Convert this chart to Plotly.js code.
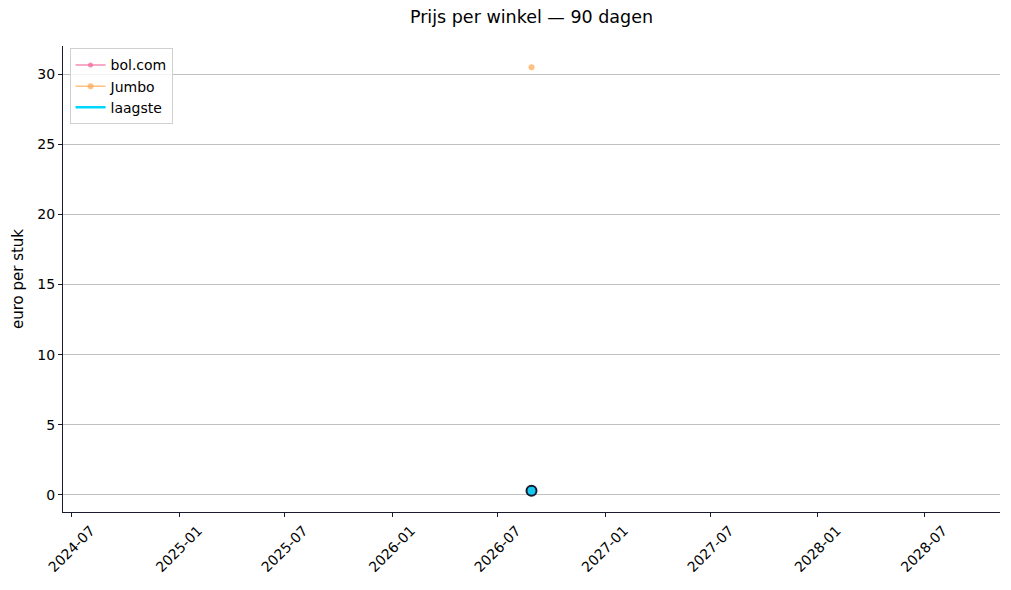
<!DOCTYPE html>
<html>
<head>
<meta charset="utf-8">
<script src="https://cdn.plot.ly/plotly-3.0.1.min.js"></script>
<style>
  html, body { margin: 0; padding: 0; background: #fff; }
  #chart { width: 1011px; height: 590px; }
</style>
</head>
<body>
<div id="chart"></div>
<script>
  // one observation per shop within the 90 day window
  const dates = ["2026-08-28"];
  const bolPrice = [0.29];
  const jumboPrice = [30.5];
  const lowest = [0.29];

  const PINK = "rgba(244,112,160,0.8)";
  const ORANGE = "rgba(255,172,90,0.75)";
  const CYAN = "#00d7ff";
  const INK = "#1a1a2e";
  const FONT = "DejaVu Sans, sans-serif";

  // matplotlib-style autoscale for a single date: +-2 years, then 5% margin
  function shiftDays(iso, n) {
    const d = new Date(iso + "T00:00:00Z");
    d.setUTCDate(d.getUTCDate() + n);
    return d.toISOString().slice(0, 10);
  }
  const xr = [shiftDays(dates[0], -803), shiftDays(dates[dates.length - 1], 803)];
  const yLo = Math.min(...bolPrice, ...jumboPrice), yHi = Math.max(...bolPrice, ...jumboPrice);
  const pad = (yHi - yLo) * 0.05;

  const traces = [
    {
      x: dates, y: bolPrice, name: "bol.com", mode: "lines+markers",
      line: { color: PINK, width: 1.5 }, marker: { color: PINK, size: 5 },
    },
    {
      x: dates, y: jumboPrice, name: "Jumbo", mode: "lines+markers",
      line: { color: ORANGE, width: 1.5 }, marker: { color: ORANGE, size: 6 },
    },
    {
      x: dates, y: lowest, name: "laagste", mode: "lines",
      line: { color: CYAN, width: 2.5 },
    },
    {
      x: dates, y: lowest, mode: "markers", showlegend: false,
      marker: { color: "#17c9ef", size: 10, line: { color: INK, width: 2 } },
    },
  ];

  const layout = {
    width: 1011, height: 590,
    paper_bgcolor: "#fff", plot_bgcolor: "#fff",
    font: { family: FONT, color: "#000", size: 14 },
    margin: { l: 63, r: 11, t: 46, b: 78 },
    title: {
      text: "Prijs per winkel — 90 dagen", font: { size: 17.5 },
      xref: "paper", x: 0.5, xanchor: "center", y: 0.982, yanchor: "top",
    },
    showlegend: true,
    legend: {
      x: 0.007, y: 0.995, xanchor: "left", yanchor: "top",
      bgcolor: "rgba(255,255,255,0.8)", bordercolor: "#d0d0d0", borderwidth: 1,
      font: { size: 14 }, tracegroupgap: 0, itemwidth: 30,
    },
    xaxis: {
      type: "date", range: xr,
      tick0: "2024-07-01", dtick: "M6", tickformat: "%Y-%m", tickangle: -45,
      ticklabelshift: 19,
      ticks: "outside", ticklen: 4, tickcolor: INK,
      showgrid: false, zeroline: false,
      showline: true, linecolor: INK, linewidth: 1,
      tickfont: { size: 14 },
    },
    yaxis: {
      range: [yLo - pad, yHi + pad],
      tick0: 0, dtick: 5,
      ticks: "outside", ticklen: 4, tickcolor: INK,
      showgrid: true, gridcolor: "#b0b0b0", gridwidth: 0.8,
      zeroline: false,
      showline: true, linecolor: INK, linewidth: 1,
      title: { text: "euro per stuk", font: { size: 15 }, standoff: 10 },
      tickfont: { size: 14 },
    },
  };

  Plotly.newPlot("chart", traces, layout, { displayModeBar: false, staticPlot: true });
</script>
</body>
</html>
